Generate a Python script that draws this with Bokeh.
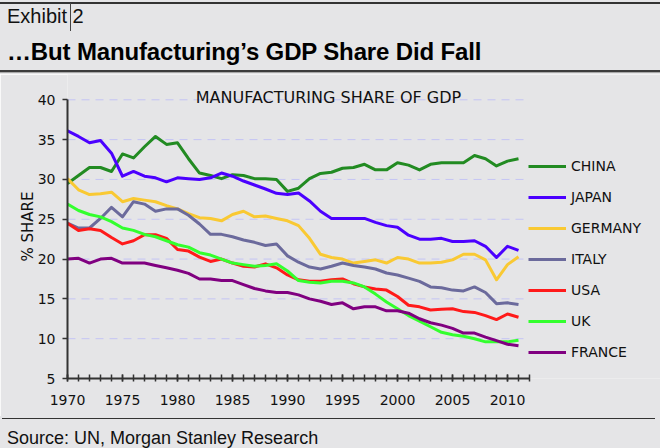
from bokeh.plotting import figure
from bokeh.layouts import column
from bokeh.models import Range1d, FixedTicker, Legend, LegendItem, Div
from bokeh.core.properties import value
from bokeh.embed import file_html
from bokeh.resources import INLINE

years = list(range(1970, 2012))
china = [29.5, 30.5, 31.5, 31.5, 31.0, 33.2, 32.7, 34.1, 35.4, 34.4,
         34.6, 32.6, 30.8, 30.5, 30.1, 30.6, 30.5, 30.1, 30.1, 30.0,
         28.5, 28.9, 30.1, 30.75, 30.9, 31.4, 31.5, 31.9, 31.2, 31.2,
         32.1, 31.8, 31.2, 31.9, 32.1, 32.1, 32.1, 33.0, 32.6, 31.7,
         32.3, 32.6]
japan = [36.1, 35.4, 34.6, 34.9, 33.3, 30.4, 31.0, 30.4, 30.2, 29.7,
         30.2, 30.1, 30.0, 30.2, 30.8, 30.4, 29.8, 29.3, 28.8, 28.25,
         28.1, 28.3, 27.3, 26.0, 25.1, 25.1, 25.1, 25.1, 24.6, 24.2,
         24.0, 23.0, 22.5, 22.5, 22.6, 22.2, 22.2, 22.3, 21.6, 20.2,
         21.6, 21.1]
germany = [30.1, 28.7, 28.1, 28.2, 28.4, 27.2, 27.6, 27.4, 27.2, 26.7,
           26.3, 25.7, 25.2, 25.1, 24.8, 25.6, 26.0, 25.3, 25.4, 25.1,
           24.8, 24.2, 22.6, 20.6, 20.2, 20.0, 19.5, 19.7, 19.9, 19.5,
           20.2, 20.0, 19.5, 19.5, 19.6, 19.9, 20.6, 20.6, 19.9, 17.4,
           19.3, 20.3]
italy = [24.5, 23.9, 23.9, 25.1, 26.5, 25.3, 27.2, 26.9, 26.0, 26.3,
         26.3, 25.5, 24.4, 23.1, 23.1, 22.8, 22.4, 22.1, 21.7, 21.9,
         20.4, 19.6, 19.0, 18.75, 19.1, 19.5, 19.2, 19.0, 18.75, 18.25,
         18.0, 17.6, 17.2, 16.5, 16.4, 16.1, 16.0, 16.5, 15.8, 14.4,
         14.5, 14.3]
usa = [24.5, 23.6, 23.8, 23.6, 22.7, 21.9, 22.3, 23.05, 23.05, 22.6,
       21.2, 21.0, 20.25, 19.7, 20.0, 19.5, 19.1, 19.0, 19.4, 18.9,
       18.0, 17.4, 17.2, 17.2, 17.4, 17.5, 16.9, 16.5, 16.25, 16.1,
       15.3, 14.2, 14.0, 13.6, 13.7, 13.75, 13.4, 13.3, 12.9, 12.4,
       13.1, 12.7]
uk = [26.9, 26.1, 25.6, 25.3, 24.7, 23.9, 23.6, 23.1, 22.8, 22.3,
      21.8, 21.5, 20.8, 20.5, 20.0, 19.5, 19.3, 19.1, 19.2, 19.4,
      18.5, 17.3, 17.1, 17.0, 17.2, 17.2, 17.0, 16.5, 15.6, 14.6,
      13.75, 12.9, 12.2, 11.5, 10.8, 10.5, 10.3, 10.0, 9.6, 9.6,
      9.6, 9.8]
france = [20.0, 20.1, 19.5, 20.0, 20.1, 19.5, 19.5, 19.5, 19.2, 18.9,
          18.6, 18.2, 17.5, 17.5, 17.3, 17.3, 16.8, 16.3, 16.0, 15.8,
          15.8, 15.5, 15.0, 14.7, 14.3, 14.5, 13.75, 14.0, 14.0, 13.5,
          13.5, 13.2, 12.5, 12.0, 11.7, 11.3, 10.7, 10.7, 10.2, 9.75,
          9.3, 9.1]

series_names = ["CHINA", "JAPAN", "GERMANY", "ITALY", "USA", "UK", "FRANCE"]
series_values = [china, japan, germany, italy, usa, uk, france]
series_colors = ["#228B22", "#4B00FF", "#F9C933", "#6B6A9C", "#FF1A1A", "#33FF2E", "#800080"]

x_major = [1970, 1975, 1980, 1985, 1990, 1995, 2000, 2005, 2010]
x_minor = list(range(1970, 2013))
x_bounds = (1970, 2012)
y_major = [5, 10, 15, 20, 25, 30, 35, 40]
y_bounds = (5, 40)

exhibit_text = "Exhibit 2"
headline_text = "\u2026But Manufacturing\u2019s GDP Share Did Fall"
chart_title = "MANUFACTURING SHARE OF GDP"
y_label = "% SHARE"
source_text = "Source: UN, Morgan Stanley Research"

BG = "#E5E5E7"
W = 660
H_HEAD = 74
H_MAIN = 342
H_FOOT = 32

ML = 67                # frame left inside main figure
PLOT_TOP = 25.3        # y of value 40 below top of main figure
PLOT_BOTTOM = 304      # y of value 5 below top of main figure (frame bottom)
PX_X = 11.0
PX_Y = (PLOT_BOTTOM - PLOT_TOP) / float(y_bounds[1] - y_bounds[0])
x_end = x_bounds[0] + (W - ML) / PX_X
y_end = y_bounds[1] + PLOT_TOP / PX_Y

FONT_SANS = "'Liberation Sans', Arial, sans-serif"

# ---- header (HTML) ----
header_html = (
    f'<div style="position:relative;width:{W}px;height:{H_HEAD}px;background:{BG};'
    f'font-family:{FONT_SANS};color:#111;overflow:hidden;">'
    f'<div style="position:absolute;left:0px;top:2px;width:{W}px;height:1.5px;background:#333;"></div>'
    f'<div style="position:absolute;left:7px;top:6.4px;font-size:20px;line-height:20px;'
    f'white-space:nowrap;">{exhibit_text}</div>'
    f'<div style="position:absolute;left:69.5px;top:3px;width:1.5px;height:28px;background:#444;"></div>'
    f'<div style="position:absolute;left:7px;top:39.7px;font-size:24px;line-height:24px;'
    f'letter-spacing:-0.15px;font-weight:bold;color:#000;white-space:nowrap;">{headline_text}</div>'
    f'<div style="position:absolute;left:0px;top:70px;width:{W}px;height:2px;background:#3C3C3C;"></div>'
    f'<div style="position:absolute;left:0px;top:72px;width:{W}px;height:1px;background:#A8A8A8;"></div>'
    f'</div>'
)
hd = Div(text=header_html, width=W, height=H_HEAD, margin=(0, 0, 0, 0),
         styles={"background-color": BG})

# ---- main chart ----
p = figure(width=W, height=H_MAIN, output_backend="svg", toolbar_location=None,
           x_range=Range1d(x_bounds[0], x_end), y_range=Range1d(y_bounds[0], y_end),
           min_border_left=ML, min_border_top=0, min_border_right=0,
           min_border_bottom=H_MAIN - PLOT_BOTTOM,
           background_fill_color=BG, border_fill_color=BG, outline_line_color=None,
           margin=(0, 0, 0, 0))

p.xaxis.ticker = FixedTicker(ticks=x_major, minor_ticks=x_minor)
p.yaxis.ticker = FixedTicker(ticks=y_major)
p.xaxis.bounds = x_bounds
p.yaxis.bounds = y_bounds
for ax in (p.xaxis[0], p.yaxis[0]):
    ax.axis_line_color = "#333333"
    ax.axis_line_width = 2
    ax.major_tick_line_color = "#333333"
    ax.major_tick_line_width = 1.5
    ax.major_label_text_font = "DejaVu Sans"
    ax.major_label_text_font_size = "14px"
    ax.major_label_text_color = "#111111"
p.xaxis.major_tick_in = 4
p.xaxis.major_tick_out = 3
p.xaxis.minor_tick_in = 4
p.xaxis.minor_tick_out = 3
p.xaxis.minor_tick_line_color = "#333333"
p.xaxis.minor_tick_line_width = 1.5
p.xaxis.major_label_standoff = 13
p.yaxis.major_tick_in = 0
p.yaxis.major_tick_out = 5
p.yaxis.minor_tick_line_color = None
p.yaxis.major_label_standoff = 7
p.yaxis.axis_label = y_label
p.yaxis.axis_label_text_font = "DejaVu Sans"
p.yaxis.axis_label_text_font_size = "15px"
p.yaxis.axis_label_text_font_style = "normal"
p.yaxis.axis_label_text_color = "#111111"
p.yaxis.axis_label_standoff = -2

p.xgrid.visible = False
p.ygrid.visible = False
grid_y = [v for v in y_major if v > y_bounds[0]]
p.segment(x0=[x_bounds[0]] * len(grid_y), x1=[x_bounds[1] - 0.35] * len(grid_y),
          y0=grid_y, y1=grid_y, line_color="#C4C4F4", line_dash="8 6", line_width=1)

title_x = x_bounds[0] + (328 - ML) / PX_X
title_y = y_bounds[1] + 2.6 / PX_Y
p.text(x=[title_x], y=[title_y], text=[chart_title], text_font=value("DejaVu Sans"),
       text_font_size="16px", text_color="#111111", text_align="center",
       text_baseline="alphabetic")

items = []
for name, vals, col in zip(series_names, series_values, series_colors):
    r = p.line(years, vals, line_color=col, line_width=3, line_join="round")
    items.append(LegendItem(label=name, renderers=[r]))

legend = Legend(items=items, location=(461, 16), orientation="vertical",
                padding=0, margin=0, spacing=11, glyph_width=38, glyph_height=20,
                label_height=20, label_standoff=5,
                label_text_font="DejaVu Sans", label_text_font_size="14px",
                label_text_color="#111111", background_fill_alpha=0,
                border_line_alpha=0)
p.add_layout(legend, "center")

# ---- footer (HTML) ----
footer_html = (
    f'<div style="position:relative;width:{W}px;height:{H_FOOT}px;background:{BG};'
    f'font-family:{FONT_SANS};color:#111;overflow:hidden;">'
    f'<div style="position:absolute;left:2px;top:1.7px;width:{W - 7}px;height:1.5px;background:#333;"></div>'
    f'<div style="position:absolute;left:7px;top:12.8px;font-size:18px;line-height:18px;'
    f'white-space:nowrap;">{source_text}</div>'
    f'</div>'
)
ft = Div(text=footer_html, width=W, height=H_FOOT, margin=(0, 0, 0, 0),
         styles={"background-color": BG})

page = column(hd, p, ft, spacing=0)
open("out.html", "w").write(file_html(page, INLINE))
